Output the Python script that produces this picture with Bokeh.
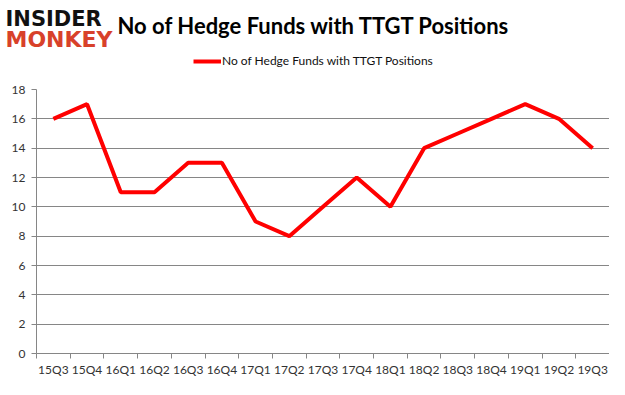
from bokeh.plotting import figure
from bokeh.models import FixedTicker, Label, Legend, LegendItem
from bokeh.layouts import column
from bokeh.embed import file_html
from bokeh.resources import INLINE

quarters = ["15Q3", "15Q4", "16Q1", "16Q2", "16Q3", "16Q4", "17Q1", "17Q2", "17Q3",
            "17Q4", "18Q1", "18Q2", "18Q3", "18Q4", "19Q1", "19Q2", "19Q3"]
funds = [16, 17, 11, 11, 13, 13, 9, 8, 10, 12, 10, 14, 15, 16, 17, 16, 14]
y_ticks = [0, 2, 4, 6, 8, 10, 12, 14, 16, 18]
title_text = "No of Hedge Funds with TTGT Positions"
series_name = "No of Hedge Funds with TTGT Positions"

W = 609
TOP_PAD = 8
HEAD_H = 89 - TOP_PAD
MAIN_H = 379 - HEAD_H
RED = "#ff0000"
gray = "#868686"

# ---------- header (title, logo, legend) ----------
hp = figure(width=W, height=HEAD_H, output_backend="svg", toolbar_location=None,
            x_range=(0, W), y_range=(HEAD_H, 0), min_border=0,
            x_axis_type=None, y_axis_type=None)
hp.frame_align = False
hp.outline_line_color = None
hp.xgrid.visible = False
hp.ygrid.visible = False

hp.add_layout(Label(x=117, y=25, text=title_text,
                    text_font="Lato", text_font_style="bold", text_font_size="22px",
                    text_color="black", text_baseline="middle", text_align="left"))
hp.add_layout(Label(x=5, y=18, text="INSIDER",
                    text_font="DejaVu Sans", text_font_style="bold", text_font_size="21px",
                    text_color="#111111", text_baseline="middle", text_align="left"))
hp.add_layout(Label(x=5, y=39, text="MONKEY",
                    text_font="DejaVu Sans", text_font_style="bold", text_font_size="22px",
                    text_color="#d8412a", text_baseline="middle", text_align="left"))

# legend proxy renderer (a single off-screen point draws nothing)
leg_r = hp.line(x=[-100], y=[-100], line_color=RED, line_width=4)
legend = Legend(items=[LegendItem(label=series_name, renderers=[leg_r])],
                location=(193, HEAD_H - 68), orientation="horizontal",
                glyph_width=28, glyph_height=14, label_height=14, label_text_font="Lato",
                label_text_font_size="12px", label_text_color="#111111",
                border_line_color=None, background_fill_alpha=0,
                padding=0, margin=0, label_standoff=1)
hp.add_layout(legend, "center")

# ---------- main chart ----------
p = figure(width=W, height=MAIN_H, output_backend="svg", toolbar_location=None,
           x_range=(0, len(quarters)), y_range=(0, 18),
           min_border_left=36, min_border_right=0, min_border_top=TOP_PAD, min_border_bottom=10)
p.frame_align = False
p.outline_line_color = None

xs = [i + 0.5 for i in range(len(quarters))]
p.line(xs, funds, line_color=RED, line_width=4)

xa = p.xaxis[0]
xa.ticker = FixedTicker(ticks=xs, minor_ticks=list(range(len(quarters) + 1)))
xa.major_label_overrides = {x: q for x, q in zip(xs, quarters)}
xa.major_tick_out = 0
xa.major_tick_in = 0
xa.minor_tick_out = 5
xa.minor_tick_in = 0
xa.minor_tick_line_color = gray
xa.axis_line_color = gray
xa.major_label_text_font = "Lato"
xa.major_label_text_font_size = "12px"
xa.major_label_text_color = "#333333"
xa.major_label_standoff = 3

ya = p.yaxis[0]
ya.ticker = FixedTicker(ticks=y_ticks)
ya.major_tick_out = 5
ya.major_tick_in = 0
ya.minor_tick_line_color = None
ya.major_tick_line_color = gray
ya.axis_line_color = gray
ya.major_label_text_font = "Lato"
ya.major_label_text_font_size = "12px"
ya.major_label_text_color = "#333333"
ya.major_label_standoff = 6

p.xgrid.grid_line_color = None
p.ygrid.ticker = FixedTicker(ticks=y_ticks)
p.ygrid.grid_line_color = gray

layout = column(hp, p, spacing=0)
open("out.html", "w").write(file_html(layout, INLINE))
